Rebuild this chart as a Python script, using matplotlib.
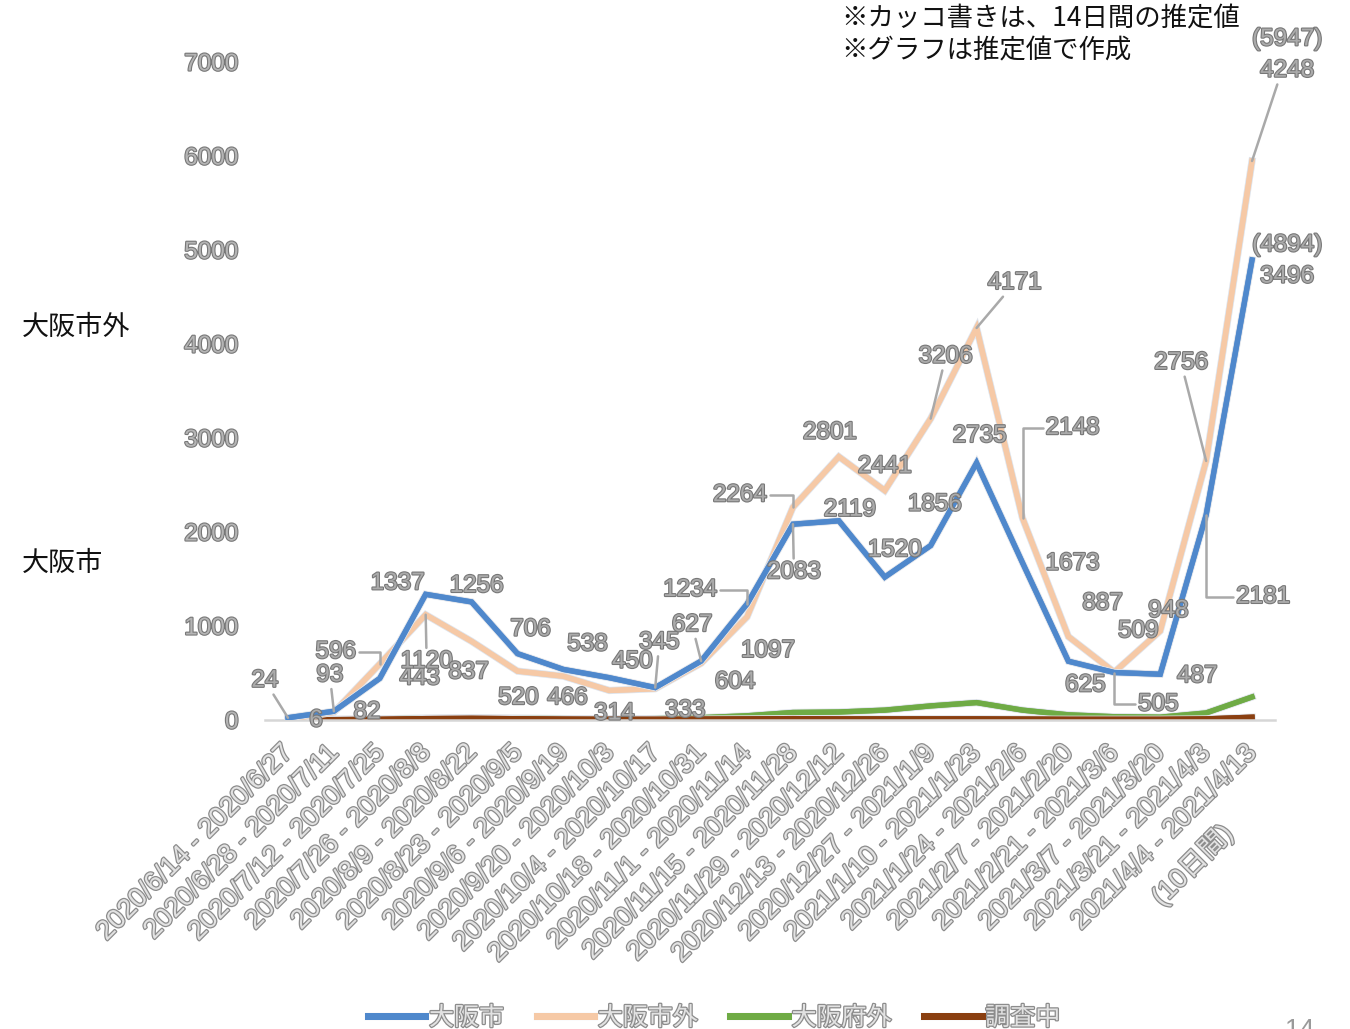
import matplotlib
matplotlib.use("Agg")
import matplotlib.pyplot as plt
import matplotlib.patheffects as pe
import matplotlib.transforms as mtransforms

# ---------------- data ----------------
periods = [
    "2020/6/14 - 2020/6/27", "2020/6/28 - 2020/7/11", "2020/7/12 - 2020/7/25",
    "2020/7/26 - 2020/8/8", "2020/8/9 - 2020/8/22", "2020/8/23 - 2020/9/5",
    "2020/9/6 - 2020/9/19", "2020/9/20 - 2020/10/3", "2020/10/4 - 2020/10/17",
    "2020/10/18 - 2020/10/31", "2020/11/1 - 2020/11/14", "2020/11/15 - 2020/11/28",
    "2020/11/29 - 2020/12/12", "2020/12/13 - 2020/12/26", "2020/12/27 - 2021/1/9",
    "2021/1/10 - 2021/1/23", "2021/1/24 - 2021/2/6", "2021/2/7 - 2021/2/20",
    "2021/2/21 - 2021/3/6", "2021/3/7 - 2021/3/20", "2021/3/21 - 2021/4/3",
    "2021/4/4 - 2021/4/13\n(10日間)",
]
osaka_city = [24, 93, 443, 1337, 1256, 706, 538, 450, 345, 627, 1234, 2083,
              2119, 1520, 1856, 2735, 1673, 625, 505, 487, 2181, 4894]
osaka_outside_city = [6, 82, 596, 1120, 837, 520, 466, 314, 333, 604, 1097, 2264,
                      2801, 2441, 3206, 4171, 2148, 887, 509, 948, 2756, 5947]
outside_pref = [5, 8, 12, 20, 25, 20, 15, 12, 15, 25, 45, 80,
                85, 105, 150, 185, 105, 55, 35, 30, 75, 245]
investigating = [3, 4, 8, 15, 18, 14, 10, 8, 8, 10, 12, 15,
                 12, 12, 12, 12, 10, 8, 8, 8, 12, 30]
city_labels = [str(v) for v in osaka_city[:-1]] + ["(4894)\n3496"]
outside_city_labels = [str(v) for v in osaka_outside_city[:-1]] + ["(5947)\n4248"]
series_names = ["大阪市", "大阪市外", "大阪府外", "調査中"]
yticks = [0, 1000, 2000, 3000, 4000, 5000, 6000, 7000]

# ---------------- layout / style ----------------
colors = ["#4f88cc", "#f6c9a6", "#6fab45", "#8a3f10"]
JP = ["Noto Sans CJK JP", "DejaVu Sans"]
NUM = ["Liberation Sans", "Noto Sans CJK JP", "DejaVu Sans"]

lab_fx = [pe.withStroke(linewidth=1.6, foreground="#777777")]
tick_fx = [pe.withStroke(linewidth=1.8, foreground="#8c8c8c")]

# label offsets in points (dx, dy) and leader style: None, 's' straight, 'e' elbow
city_off = [(-16.6, 26.6, 's'), (-2.9, 25.9, 's'), (28.8, 0, None), (-20.2, 7.9, None),
            (3.6, 11.5, None), (9.4, 17.3, None), (17.3, 18, None), (16.6, 11.5, None),
            (2.9, 32.4, 's'), (-6.5, 25.9, 's'), (-41, 10.1, 'e'), (0.7, -34.6, 's'),
            (7.9, 7.9, None), (7.2, 19.4, None), (2.9, 29.5, None), (2.2, 19.4, None),
            (36, -0.7, None), (12.2, -17.3, None), (31.7, -23, 'e'), (26.6, -1.4, None),
            (41, -59, 'e'), (25.2, -0.7, None)]
outside_off = [(20.2, -0.7, None), (23.8, 0, None), (-31.7, 8.6, 'e'), (0.7, -33.8, 's'),
               (-2.2, -22.3, None), (0.7, -19.4, None), (2.9, -15.8, None), (3.6, -16.6, None),
               (21.6, -15.8, None), (24.5, -13.7, None), (15.1, -24.5, None), (-38.2, 8.6, 'e'),
               (-6.5, 17.3, None), (0, 17.3, None), (10.8, 44.6, 's'), (27.4, 32.4, 's'),
               (36, 64.8, 'e'), (24.5, 23.8, None), (17.3, 29.5, None), (5.8, 14.4, None),
               (-18, 70.6, 's'), (25.2, 76.3, 's')]

fig = plt.figure(figsize=(13.5, 10.29), dpi=100)
ax = fig.add_axes([265 / 1350, 1 - 720 / 1029, 1010 / 1350, 658 / 1029])

x = list(range(len(periods)))
series = [osaka_city, osaka_outside_city, outside_pref, investigating]
zorders = [4, 3, 2, 2]
for vals, c, name, z in zip(series, colors, series_names, zorders):
    ax.plot(x, vals, color=c, lw=3.8, solid_joinstyle="miter", label=name, zorder=z,
            path_effects=[pe.withStroke(linewidth=5.2, foreground="#dfe3ea"), pe.Normal()])

ax.set_xlim(-0.5, len(periods) - 0.5)
ax.set_ylim(0, 7000)
ax.set_yticks(yticks)
ax.set_yticklabels([str(t) for t in yticks], family=NUM, fontsize=17.5,
                   color="#b5b5b5")
for t in ax.get_yticklabels():
    t.set_path_effects(lab_fx)
ax.tick_params(axis="y", length=0, pad=19)
ax.tick_params(axis="x", length=0, pad=14)
ax.set_xticks(x)
ax.set_xticklabels(periods, rotation=45, ha="right", va="top", rotation_mode="anchor",
                   family=NUM, fontsize=19.5, color="#e2e2e2", multialignment="center",
                   linespacing=1.6)
shift = mtransforms.ScaledTranslation(-0.08, 0, fig.dpi_scale_trans)
for t in ax.get_xticklabels():
    t.set_path_effects(tick_fx)
    t.set_transform(t.get_transform() + shift)

for s in ["left", "right", "top"]:
    ax.spines[s].set_visible(False)
ax.spines["bottom"].set_color("#d6d6d6")
ax.spines["bottom"].set_linewidth(1.8)


def put_labels(vals, texts, offs):
    for i, (v, t, (dx, dy, kind)) in enumerate(zip(vals, texts, offs)):
        kw = dict(textcoords="offset points", ha="center", va="center",
                  fontsize=17.5, family=NUM, color="#ababab", zorder=6,
                  linespacing=1.55, annotation_clip=False)
        if kind == "s":
            kw["arrowprops"] = dict(arrowstyle="-", color="#a9a9a9", lw=1.8,
                                    shrinkA=0, shrinkB=0)
        elif kind == "e":
            kw["arrowprops"] = dict(arrowstyle="-", color="#a9a9a9", lw=1.8,
                                    shrinkA=0, shrinkB=0,
                                    connectionstyle="angle,angleA=0,angleB=90,rad=0",
                                    relpos=(0 if dx > 0 else 1, 0.5))
        a = ax.annotate(t, xy=(i, v), xytext=(dx, dy), **kw)
        a.set_path_effects(lab_fx)


put_labels(osaka_city, city_labels, city_off)
put_labels(osaka_outside_city, outside_city_labels, outside_off)

# side / note texts
fig.text(22 / 1350, 1 - 327 / 1029, "大阪市外", family=JP, fontsize=19.5, va="center",
         ha="left", color="#111111")
fig.text(22 / 1350, 1 - 563 / 1029, "大阪市", family=JP, fontsize=19.5, va="center",
         ha="left", color="#111111")
fig.text(841 / 1350, 1 - 19 / 1029, "※カッコ書きは、14日間の推定値", family=JP,
         fontsize=19, va="center", ha="left", color="#111111")
fig.text(841 / 1350, 1 - 51 / 1029, "※グラフは推定値で作成", family=JP,
         fontsize=19, va="center", ha="left", color="#111111")
fig.text(1300 / 1350, 1 - 1018 / 1029, "14", family=NUM, fontsize=19,
         va="top", ha="center", color="#9a9a9a")

leg = fig.legend(loc="center", bbox_to_anchor=(714 / 1350, 1 - 1018 / 1029), ncol=4,
                 frameon=False, prop={"family": JP, "size": 18}, handlelength=2.3,
                 handletextpad=0.15, columnspacing=1.3)
for line in leg.get_lines():
    line.set_linewidth(5)
for t in leg.get_texts():
    t.set_color("#e2e2e2")
    t.set_path_effects(tick_fx)

fig.savefig("out.png", dpi=100, facecolor="white")
